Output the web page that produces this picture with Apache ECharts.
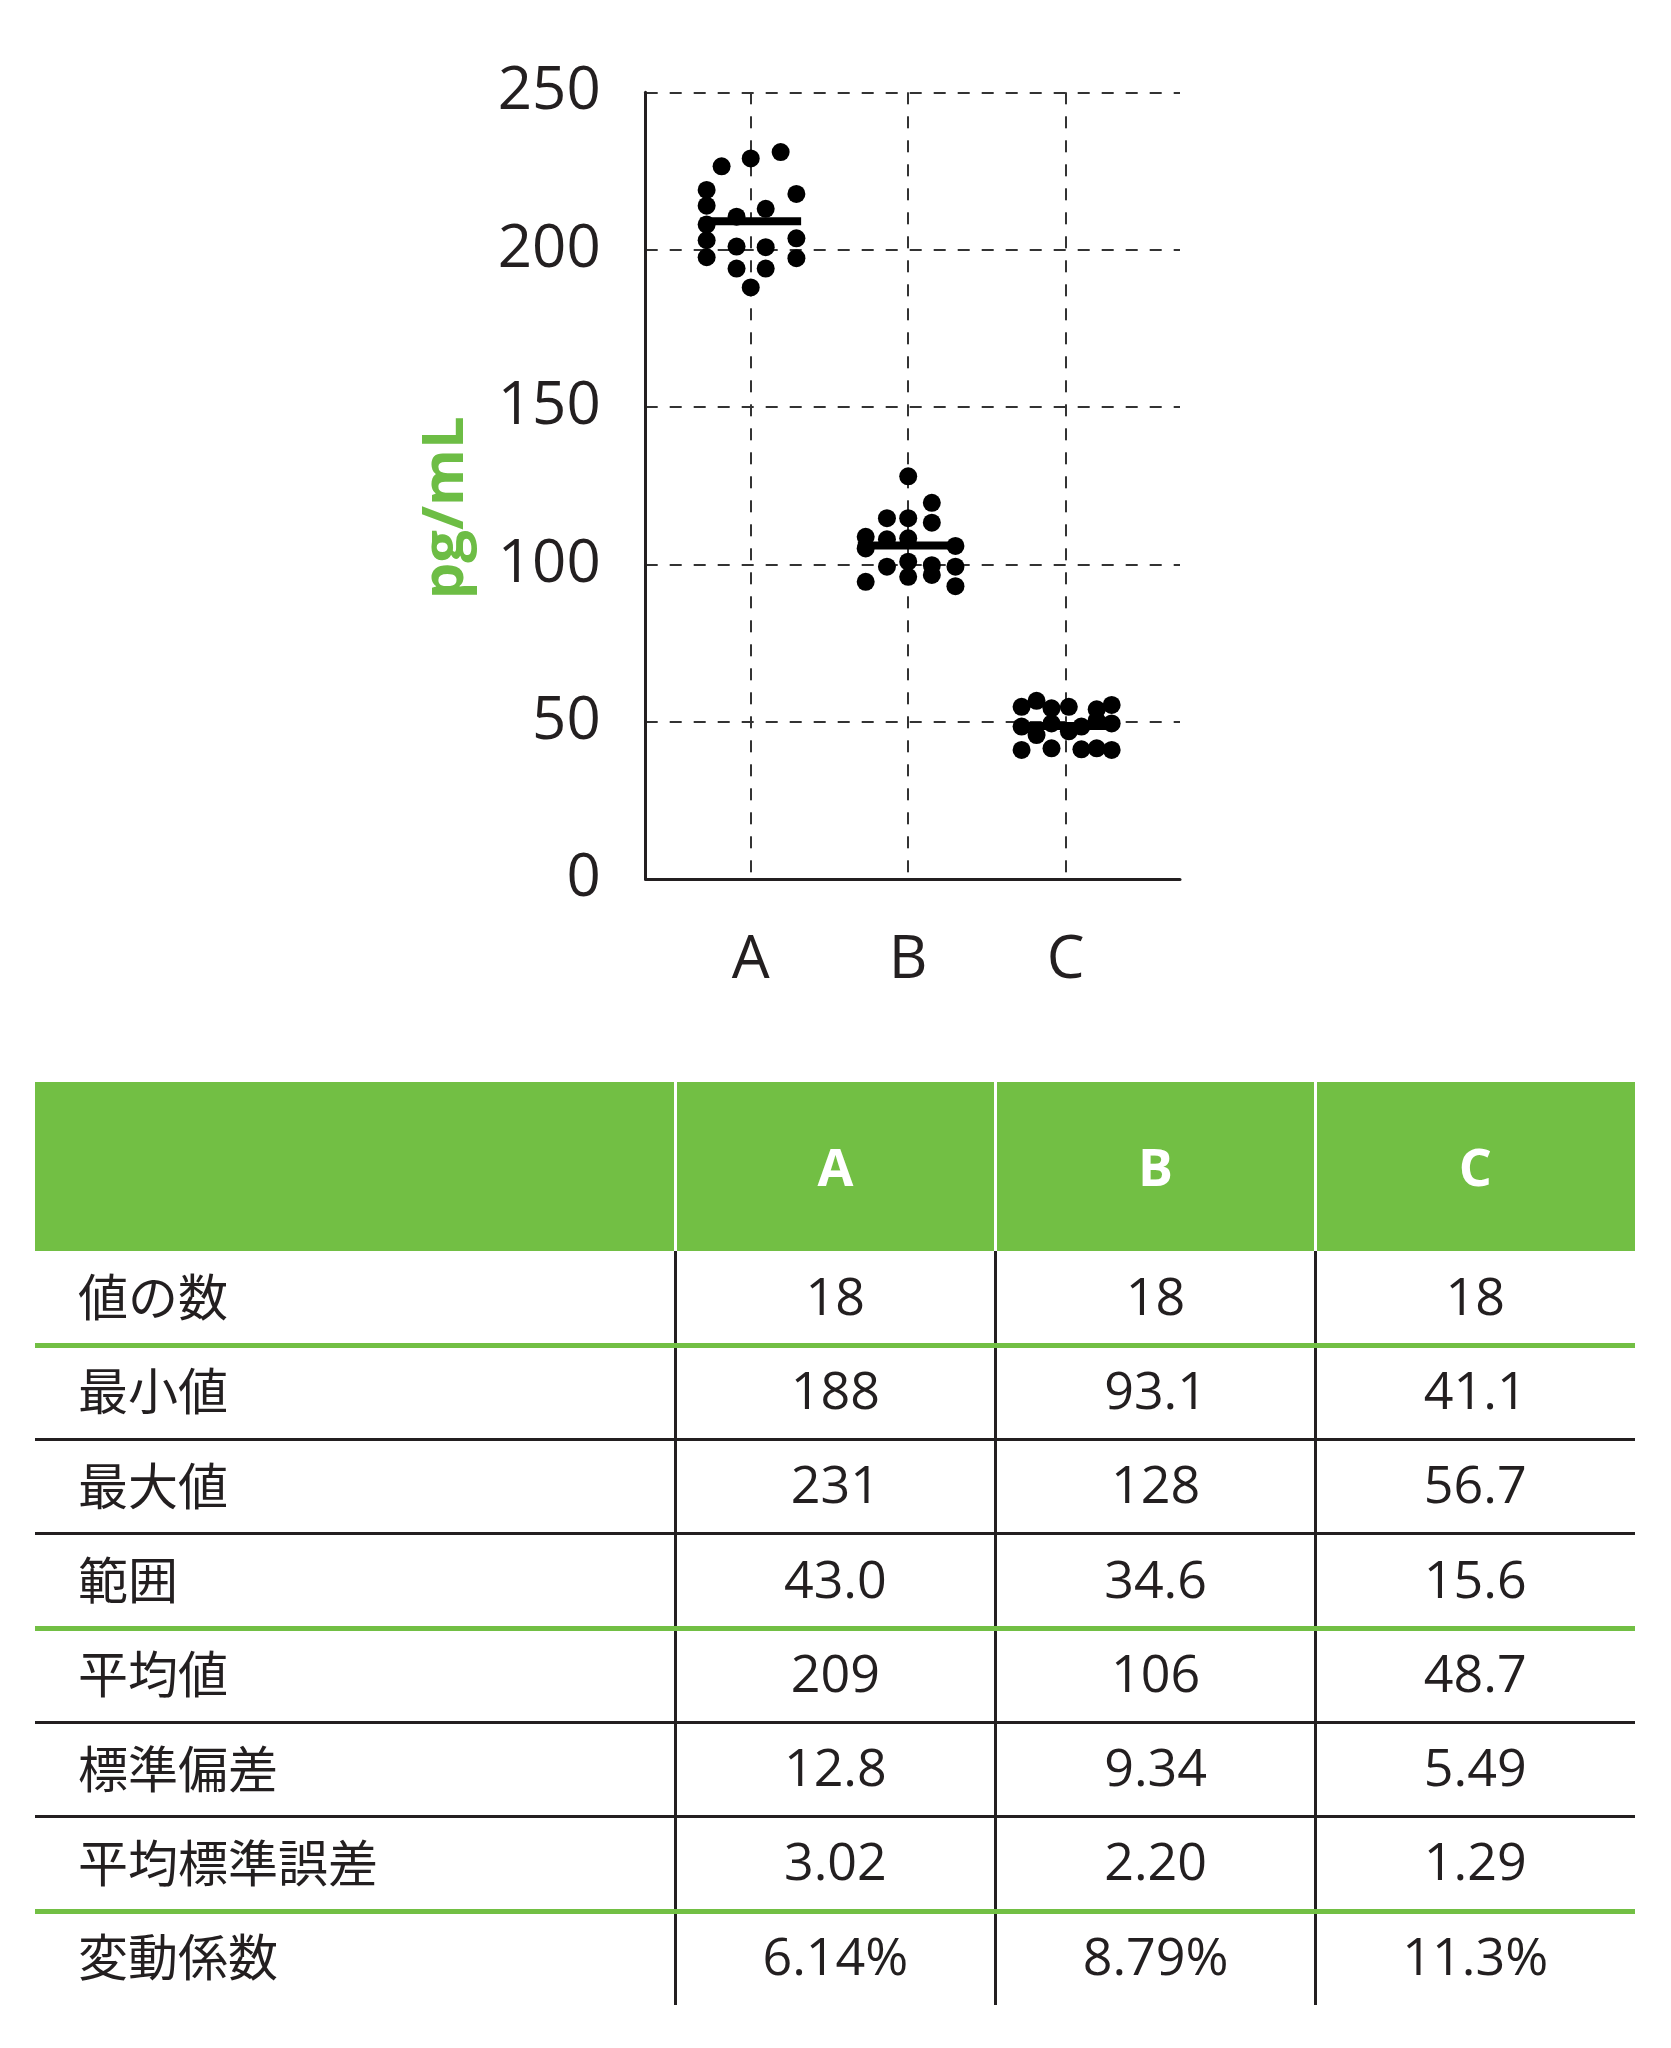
<!DOCTYPE html>
<html>
<head>
<meta charset="utf-8">
<script src="https://cdn.jsdelivr.net/npm/echarts@6/dist/echarts.min.js"></script>
<style>
  html, body { margin: 0; padding: 0; background: #fff; }
  #page { position: relative; width: 1671px; height: 2048px; }
  #main { position: absolute; left: 0; top: 0; width: 1671px; height: 1050px; }
  .cell { position: absolute; display: flex; align-items: center; color: #231f20; white-space: nowrap; box-sizing: border-box; padding-bottom: 8px; }
  .num { justify-content: center; font-family: "Open Sans", "Noto Sans", sans-serif; font-size: 52px; }
  .lab { font-family: "Noto Sans CJK JP", sans-serif; font-size: 50px; }
  .head { justify-content: center; color: #fff; font-family: "Open Sans", sans-serif; font-weight: bold; font-size: 52px; padding-bottom: 2px; }
  .ln { position: absolute; }
</style>
</head>
<body>
<div id="page">
  <div id="main"></div>
  <div id="table"></div>
</div>
<script>
// groups
var groups = ['A', 'B', 'C'];

// measured values (pg/mL) and horizontal jitter of each dot
var aValues = [226.5, 229, 231, 219, 214, 208, 203, 197.6, 217.7, 213, 210.5, 203.6, 197.3, 201, 200.8, 194, 194, 188];
var aJitter = [-0.185, 0, 0.19, -0.28, -0.28, -0.28, -0.28, -0.28, 0.29, 0.095, -0.09, 0.29, 0.29, -0.09, 0.095, -0.09, 0.095, 0];

var bValues = [128, 119.6, 113.3, 114.7, 114.7, 108.8, 105.1, 108.0, 108.3, 99.8, 105.9, 99.3, 93.1, 94.5, 99.3, 100.9, 96.1, 96.7];
var bJitter = [0, 0.15, 0.15, -0.135, 0, -0.27, -0.27, -0.135, 0, 0.15, 0.3, 0.3, 0.3, -0.27, -0.135, 0, 0, 0.15];

var cValues = [54.8, 56.7, 54.3, 54.8, 54.0, 55.4, 48.5, 45.8, 49.5, 47.0, 48.5, 50.5, 49.5, 41.1, 41.6, 41.3, 41.6, 41.1];
var cJitter = [-0.28, -0.185, -0.09, 0.02, 0.197, 0.292, -0.28, -0.185, -0.09, 0.02, 0.1, 0.197, 0.292, -0.28, -0.09, 0.1, 0.197, 0.292];

// table
var rowLabels = ['値の数', '最小値', '最大値', '範囲', '平均値', '標準偏差', '平均標準誤差', '変動係数'];
var colA = ['18', '188', '231', '43.0', '209', '12.8', '3.02', '6.14%'];
var colB = ['18', '93.1', '128', '34.6', '106', '9.34', '2.20', '8.79%'];
var colC = ['18', '41.1', '56.7', '15.6', '48.7', '5.49', '1.29', '11.3%'];
var means = [209, 106, 48.7];

var green = '#72bf44';
var ink = '#231f20';

window.onload = function () {
  var myChart = echarts.init(document.getElementById('main'));

  var allValues = [aValues, bValues, cValues];
  var allJitter = [aJitter, bJitter, cJitter];
  var dots = [];
  for (var g = 0; g < 3; g++) {
    for (var i = 0; i < allValues[g].length; i++) {
      dots.push([g + 1 + allJitter[g][i], allValues[g][i]]);
    }
  }

  var series = [{
    type: 'scatter',
    data: dots,
    symbolSize: 18,
    itemStyle: { color: '#000', opacity: 1 },
    silent: true,
    z: 3
  }];
  // mean bars
  for (var k = 0; k < 3; k++) {
    series.push({
      type: 'line',
      data: [[k + 1 - 0.32, means[k]], [k + 1 + 0.32, means[k]]],
      symbol: 'none',
      lineStyle: { color: '#000', width: 8 },
      silent: true,
      z: 4
    });
  }

  var dash = { color: '#333', width: 2, type: [12, 12] };

  var option = {
    animation: false,
    grid: { left: 645.7, top: 92.3, right: 491, bottom: 170.7 },
    xAxis: {
      type: 'value',
      min: 0.333,
      max: 3.726,
      axisLine: { show: true, lineStyle: { color: ink, width: 3 } },
      axisTick: { show: false, customValues: [1, 2, 3] },
      axisLabel: {
        customValues: [1, 2, 3],
        formatter: function (v) { return groups[Math.round(v) - 1]; },
        fontSize: 60, color: ink, fontFamily: 'Open Sans', margin: 52
      },
      splitLine: { show: true, lineStyle: dash }
    },
    yAxis: {
      type: 'value',
      min: 0,
      max: 250,
      interval: 50,
      axisLine: { show: true, lineStyle: { color: ink, width: 3 } },
      axisTick: { show: false },
      axisLabel: { fontSize: 60, color: ink, fontFamily: 'Open Sans', margin: 45, padding: [10, 0, 0, 0] },
      splitLine: { show: true, lineStyle: dash },
      name: 'pg/mL',
      nameLocation: 'middle',
      nameGap: 170,
      nameTextStyle: {
        color: '#6dbd45', fontSize: 58, fontWeight: 'bold', fontFamily: 'Open Sans',
        padding: [0, 44, 0, 0]
      }
    },
    series: series
  };
  myChart.setOption(option);

  // statistics table
  var t = document.getElementById('table');
  var left = 35, right = 1635, top = 1082, headH = 169, rowH = 94.3;
  var colX = [35, 675, 995.7, 1315.5, 1635];
  function add(cls, css, text) {
    var d = document.createElement('div');
    d.className = cls;
    for (var key in css) d.style[key] = css[key];
    if (text !== undefined) d.textContent = text;
    t.appendChild(d);
    return d;
  }
  add('ln', { left: left + 'px', top: top + 'px', width: (right - left) + 'px', height: headH + 'px', background: green });
  for (var c = 1; c <= 3; c++) {
    add('ln', { left: (colX[c] - 1.5) + 'px', top: top + 'px', width: '3px', height: headH + 'px', background: '#fff' });
    add('cell head', { left: colX[c] + 'px', top: top + 'px', width: (colX[c + 1] - colX[c]) + 'px', height: headH + 'px' }, groups[c - 1]);
  }
  var bodyTop = top + headH;
  var cols = [colA, colB, colC];
  for (var r = 0; r < rowLabels.length; r++) {
    var y = bodyTop + r * rowH;
    add('cell lab', { left: '78px', top: y + 'px', height: rowH + 'px' }, rowLabels[r]);
    for (var c2 = 0; c2 < 3; c2++) {
      add('cell num', { left: colX[c2 + 1] + 'px', top: y + 'px', width: (colX[c2 + 2] - colX[c2 + 1]) + 'px', height: rowH + 'px' }, cols[c2][r]);
    }
  }
  var bodyBottom = bodyTop + rowLabels.length * rowH;
  for (var v = 1; v <= 3; v++) {
    add('ln', { left: (colX[v] - 1.5) + 'px', top: bodyTop + 'px', width: '3px', height: (bodyBottom - bodyTop) + 'px', background: ink });
  }
  for (var h = 1; h < rowLabels.length; h++) {
    var isGreen = (h === 1 || h === 4 || h === 7);
    var w = isGreen ? 5 : 3;
    add('ln', { left: left + 'px', top: (bodyTop + h * rowH - w / 2) + 'px', width: (right - left) + 'px', height: w + 'px', background: isGreen ? green : ink });
  }
};
</script>
</body>
</html>
